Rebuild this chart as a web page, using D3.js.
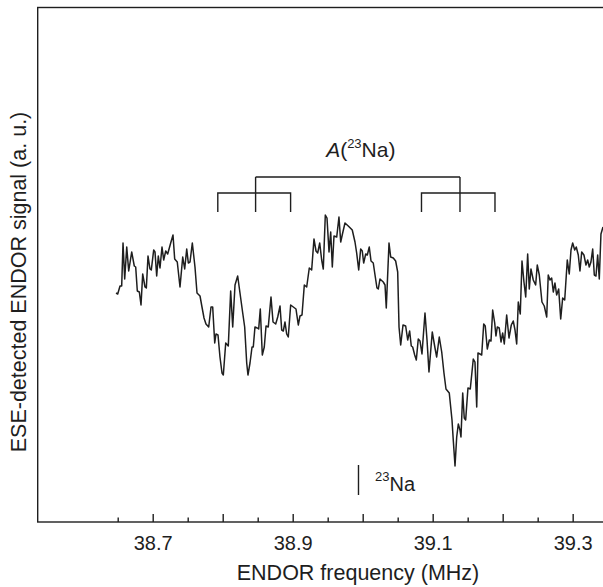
<!DOCTYPE html>
<html>
<head>
<meta charset="utf-8">
<script src="https://cdn.jsdelivr.net/npm/d3@7.9.0/dist/d3.min.js"></script>
<style>
  html, body { margin: 0; padding: 0; background: #fff; }
  svg { display: block; font-family: "Liberation Sans", Arial, Helvetica, sans-serif; }
</style>
</head>
<body>
<svg id="chart" width="603" height="587"></svg>
<script>
// ENDOR spectrum (frequency in MHz, signal in a.u.)
const freqMHz = [
  38.6476, 38.6500, 38.6533, 38.6557, 38.6576, 38.6600, 38.6629, 38.6657, 38.6700, 38.6737,
  38.6757, 38.6780, 38.6809, 38.6833, 38.6857, 38.6890, 38.6909, 38.6933, 38.6961, 38.6980,
  38.7014, 38.7033, 38.7057, 38.7080, 38.7104, 38.7133, 38.7157, 38.7186, 38.7214, 38.7257,
  38.7290, 38.7314, 38.7351, 38.7390, 38.7429, 38.7457, 38.7486, 38.7509, 38.7533, 38.7566,
  38.7604, 38.7633, 38.7676, 38.7704, 38.7733, 38.7761, 38.7800, 38.7833, 38.7857, 38.7886,
  38.7904, 38.7933, 38.7961, 38.7990, 38.8009, 38.8043, 38.8080, 38.8114, 38.8143, 38.8176,
  38.8214, 38.8247, 38.8286, 38.8314, 38.8343, 38.8361, 38.8390, 38.8419, 38.8437, 38.8461,
  38.8494, 38.8514, 38.8537, 38.8566, 38.8594, 38.8619, 38.8651, 38.8690, 38.8719, 38.8757,
  38.8786, 38.8819, 38.8843, 38.8866, 38.8890, 38.8914, 38.8937, 38.8971, 38.9009, 38.9047,
  38.9080, 38.9104, 38.9133, 38.9166, 38.9200, 38.9237, 38.9271, 38.9304, 38.9333, 38.9357,
  38.9386, 38.9414, 38.9437, 38.9466, 38.9490, 38.9519, 38.9543, 38.9566, 38.9590, 38.9629,
  38.9661, 38.9686, 38.9714, 38.9747, 38.9794, 38.9851, 38.9890, 38.9914, 38.9943, 38.9971,
  38.9994, 39.0014, 39.0043, 39.0066, 39.0094, 39.0119, 39.0151, 39.0176, 39.0204, 39.0223,
  39.0247, 39.0294, 39.0319, 39.0337, 39.0376, 39.0400, 39.0437, 39.0471, 39.0500, 39.0519,
  39.0543, 39.0576, 39.0614, 39.0643, 39.0671, 39.0694, 39.0714, 39.0743, 39.0766, 39.0794,
  39.0819, 39.0847, 39.0890, 39.0919, 39.0947, 39.0994, 39.1033, 39.1057, 39.1094, 39.1129,
  39.1161, 39.1190, 39.1237, 39.1276, 39.1294, 39.1319, 39.1343, 39.1366, 39.1390, 39.1404,
  39.1429, 39.1451, 39.1471, 39.1504, 39.1537, 39.1580, 39.1604, 39.1629, 39.1647, 39.1676,
  39.1700, 39.1729, 39.1751, 39.1780, 39.1809, 39.1833, 39.1857, 39.1886, 39.1904, 39.1923,
  39.1951, 39.1976, 39.2000, 39.2023, 39.2057, 39.2090, 39.2123, 39.2151, 39.2176, 39.2200,
  39.2223, 39.2251, 39.2276, 39.2304, 39.2329, 39.2357, 39.2380, 39.2404, 39.2437, 39.2471,
  39.2494, 39.2523, 39.2561, 39.2594, 39.2629, 39.2651, 39.2676, 39.2700, 39.2723, 39.2747,
  39.2771, 39.2800, 39.2829, 39.2857, 39.2886, 39.2923, 39.2951, 39.2976, 39.3000, 39.3029,
  39.3051, 39.3080, 39.3104, 39.3129, 39.3161, 39.3190, 39.3214, 39.3237, 39.3261, 39.3286,
  39.3309, 39.3333, 39.3357, 39.3380, 39.3404, 39.3433
];
const signal = [
  22.9, 22.8, 23.6, 23.6, 27.9, 24.3, 27.5, 25.1, 27.0, 25.6,
  25.5, 23.1, 23.0, 21.7, 24.8, 23.5, 23.4, 26.6, 25.3, 25.2,
  27.2, 27.0, 24.6, 26.6, 25.4, 27.5, 26.2, 27.1, 26.8, 27.9,
  28.7, 26.3, 26.0, 23.5, 26.5, 25.3, 27.3, 25.9, 26.0, 27.9,
  25.5, 22.9, 22.6, 21.5, 20.4, 19.8, 19.5, 21.5, 21.5, 17.9,
  18.8, 18.7, 16.5, 14.9, 14.7, 17.9, 17.6, 23.1, 19.5, 23.7,
  24.6, 22.9, 20.9, 19.5, 15.9, 14.7, 15.9, 17.5, 17.5, 19.5,
  19.4, 19.3, 21.3, 16.7, 17.5, 19.6, 19.5, 22.5, 20.0, 19.8,
  20.5, 21.6, 19.2, 19.1, 20.0, 18.8, 18.5, 21.7, 21.5, 21.3,
  19.7, 20.6, 20.7, 23.7, 23.5, 25.4, 25.2, 28.3, 27.1, 26.9,
  27.9, 26.2, 25.3, 30.7, 30.4, 27.0, 29.0, 25.5, 28.6, 28.5,
  30.5, 28.0, 28.9, 29.9, 29.6, 29.2, 28.0, 26.9, 25.2, 27.3,
  27.1, 25.9, 26.8, 26.7, 27.5, 26.1, 25.9, 24.7, 23.4, 23.3,
  24.3, 24.0, 23.7, 21.4, 27.9, 26.5, 26.4, 26.1, 25.0, 19.5,
  17.7, 19.7, 19.6, 18.2, 19.1, 17.6, 17.5, 16.7, 16.2, 18.3,
  18.1, 16.8, 20.9, 18.2, 15.0, 19.0, 17.4, 16.5, 18.5, 17.0,
  14.9, 13.3, 12.9, 10.2, 8.2, 5.6, 8.5, 9.8, 9.2, 8.5,
  12.9, 10.4, 10.2, 13.4, 13.3, 16.3, 16.0, 11.5, 16.9, 16.8,
  16.7, 19.8, 19.6, 17.3, 18.2, 18.1, 21.2, 19.9, 18.6, 19.5,
  19.4, 18.0, 18.9, 17.8, 20.7, 18.4, 19.7, 20.1, 19.2, 17.8,
  22.0, 20.8, 26.1, 24.0, 22.5, 26.8, 23.3, 25.3, 24.2, 23.7,
  25.7, 24.7, 22.0, 21.6, 20.5, 24.7, 24.2, 24.4, 23.0, 23.9,
  22.7, 23.3, 20.3, 22.4, 22.2, 26.2, 24.8, 27.2, 27.9, 27.2,
  27.5, 26.7, 25.1, 27.0, 26.7, 25.7, 26.2, 25.5, 26.0, 27.3,
  24.7, 24.6, 26.7, 24.3, 28.8, 29.5
];

const xDomain = [38.5357, 39.4819];
const yDomain = [0, 51.45];
const minorTicks = d3.range(38.65, 39.46, 0.1).map(v => +v.toFixed(2));
const majorTicks = d3.range(38.7, 39.41, 0.1).map(v => +v.toFixed(1));
const tickLabels = ['38.7', '38.9', '39.1', '39.3'];

// hyperfine splitting brackets and the 23Na Larmor marker
const leftGroup = [38.793, 38.847, 38.897];
const rightGroup = [39.084, 39.139, 39.189];
const bracketLevels = [34.5, 32.9, 31.0];
const naLarmor = 38.994;
const naMarkerSpan = [2.7, 5.7];

const svg = d3.select('#chart');
const plotLeft = 37.7, plotRight = 700, plotTop = 7.5, plotBottom = 522;
const ink = '#1e1e1e';

const x = d3.scaleLinear().domain(xDomain).range([plotLeft, plotRight]);
const y = d3.scaleLinear().domain(yDomain).range([plotBottom, plotTop]);

svg.append('defs').append('clipPath').attr('id', 'plot-clip')
  .append('rect').attr('x', plotLeft).attr('y', plotTop)
  .attr('width', plotRight - plotLeft).attr('height', plotBottom - plotTop);

// frame
svg.append('rect')
  .attr('x', plotLeft).attr('y', plotTop)
  .attr('width', plotRight - plotLeft).attr('height', plotBottom - plotTop)
  .attr('fill', 'none').attr('stroke', ink).attr('stroke-width', 1.4);

// ticks point inward
const minorAxis = svg.append('g')
  .attr('transform', `translate(0,${plotBottom})`)
  .call(d3.axisBottom(x).tickValues(minorTicks).tickSize(-4.5).tickSizeOuter(0).tickFormat(''));
const majorAxis = svg.append('g')
  .attr('transform', `translate(0,${plotBottom})`)
  .call(d3.axisBottom(x).tickValues(majorTicks).tickSize(-8).tickSizeOuter(0)
    .tickFormat(d => tickLabels.includes(d.toFixed(1)) ? d.toFixed(1) : ''));
[minorAxis, majorAxis].forEach(g => {
  g.select('.domain').remove();
  g.selectAll('line').attr('stroke', ink).attr('stroke-width', 1.4);
});
majorAxis.selectAll('text')
  .attr('y', 28).attr('dy', 0)
  .attr('fill', ink)
  .style('font-size', '20px')
  .style('font-family', '"Liberation Sans", Arial, sans-serif');

// spectrum trace
const points = freqMHz.map((f, i) => [f, signal[i]]);
const line = d3.line().x(d => x(d[0])).y(d => y(d[1]));
svg.append('path')
  .datum(points)
  .attr('clip-path', 'url(#plot-clip)')
  .attr('d', line)
  .attr('fill', 'none')
  .attr('stroke', ink)
  .attr('stroke-width', 1.5)
  .attr('stroke-linejoin', 'round');

// brackets
const [yMain, ySub, yLeg] = bracketLevels.map(v => y(v));
const bracket = d3.path();
bracket.moveTo(x(leftGroup[1]), yMain);
bracket.lineTo(x(rightGroup[1]), yMain);
[leftGroup, rightGroup].forEach(g => {
  bracket.moveTo(x(g[1]), yMain);
  bracket.lineTo(x(g[1]), yLeg);
  bracket.moveTo(x(g[0]), yLeg);
  bracket.lineTo(x(g[0]), ySub);
  bracket.lineTo(x(g[2]), ySub);
  bracket.lineTo(x(g[2]), yLeg);
});
svg.append('path')
  .attr('d', bracket.toString())
  .attr('fill', 'none')
  .attr('stroke', ink)
  .attr('stroke-width', 1.4);

const hfLabel = svg.append('text')
  .attr('x', (x(leftGroup[1]) + x(rightGroup[1])) / 2 + 3)
  .attr('y', y(36.53))
  .attr('text-anchor', 'middle')
  .attr('fill', ink)
  .style('font-size', '21px');
hfLabel.append('tspan').style('font-style', 'italic').text('A');
hfLabel.append('tspan').text('(');
hfLabel.append('tspan').attr('dy', -8.5).style('font-size', '13px').text('23');
hfLabel.append('tspan').attr('dy', 8.5).text('Na)');

// 23Na Larmor marker
svg.append('line')
  .attr('x1', x(naLarmor)).attr('x2', x(naLarmor))
  .attr('y1', y(naMarkerSpan[0])).attr('y2', y(naMarkerSpan[1]))
  .attr('stroke', ink).attr('stroke-width', 1.4);
const naLabel = svg.append('text')
  .attr('x', x(naLarmor) + 16.5)
  .attr('y', y(3.13))
  .attr('fill', ink)
  .style('font-size', '20px');
naLabel.append('tspan').attr('dy', -10).style('font-size', '13px').text('23');
naLabel.append('tspan').attr('dy', 10).text('Na');

// axis titles
svg.append('text')
  .attr('x', 358).attr('y', 580)
  .attr('text-anchor', 'middle')
  .attr('fill', ink)
  .style('font-size', '21.5px')
  .text('ENDOR frequency (MHz)');

svg.append('text')
  .attr('transform', 'translate(26,282) rotate(-90)')
  .attr('text-anchor', 'middle')
  .attr('fill', ink)
  .style('font-size', '21.5px')
  .text('ESE-detected ENDOR signal (a. u.)');
</script>
</body>
</html>
